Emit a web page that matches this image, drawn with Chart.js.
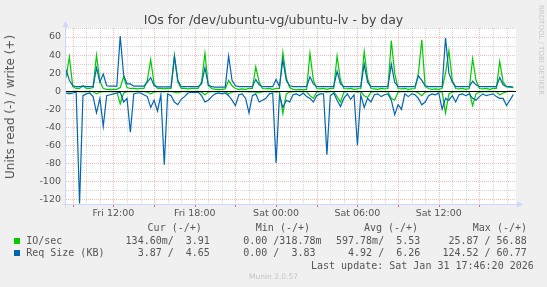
<!DOCTYPE html>
<html>
<head>
<meta charset="utf-8">
<title>IOs for /dev/ubuntu-vg/ubuntu-lv - by day</title>
<script src="https://cdn.jsdelivr.net/npm/chart.js@4.4.0/dist/chart.umd.min.js"></script>
<style>
  html, body { margin: 0; padding: 0; background: #f0f0f0; }
  #wrap { position: relative; width: 547px; height: 287px; overflow: hidden; }
  #chart { position: absolute; left: 0; top: 0; }
  .txt { position: absolute; white-space: pre; color: #555; }
  .mono { font-family: "DejaVu Sans Mono", monospace; font-size: 10px; line-height: 12px; }
  .title { font-family: "DejaVu Sans", sans-serif; font-size: 12.5px; line-height: 15px; color: #444;
           left: 0; width: 547px; text-align: center; top: 12px; }
  .ytitle { font-family: "DejaVu Sans", sans-serif; font-size: 12px; line-height: 14px; left: 10px; top: 107px;
            transform: translate(-50%, -50%) rotate(-90deg); }
  .mark { position: absolute; width: 6px; height: 6px; }
  .munin { font-family: "DejaVu Sans", sans-serif; font-size: 7.5px; line-height: 9px; color: #c4c4c4;
           left: 0; width: 547px; text-align: center; top: 272px; }
  .rrd { font-family: "DejaVu Sans", sans-serif; font-size: 7px; color: #c8c8c8; left: 537px; top: 5px;
         writing-mode: vertical-rl; }
</style>
</head>
<body>
<div id="wrap">
  <canvas id="chart" width="547" height="287"></canvas>
  <div class="txt title">IOs for /dev/ubuntu-vg/ubuntu-lv - by day</div>
  <div class="txt ytitle">Units read (-) / write (+)</div>
  <div class="txt rrd">RRDTOOL / TOBI OETIKER</div>

  <div class="txt mono" style="left:147.6px; top:222px">Cur (-/+)</div>
  <div class="txt mono" style="left:255.8px; top:222px">Min (-/+)</div>
  <div class="txt mono" style="left:363.9px; top:222px">Avg (-/+)</div>
  <div class="txt mono" style="left:472.8px; top:222px">Max (-/+)</div>

  <div class="mark" style="left:14px; top:237.5px; background:#00cc00"></div>
  <div class="txt mono" style="left:26.2px; top:234.5px">IO/sec</div>
  <div class="txt mono" style="left:125.6px; top:234.5px">134.60m/  3.91 </div>
  <div class="txt mono" style="left:231.2px; top:234.5px">  0.00 /318.78m</div>
  <div class="txt mono" style="left:336px; top:234.5px">597.78m/  5.53 </div>
  <div class="txt mono" style="left:442.4px; top:234.5px"> 25.87 / 56.88 </div>

  <div class="mark" style="left:14px; top:250px; background:#0066b3"></div>
  <div class="txt mono" style="left:26.2px; top:247px">Req Size (KB)</div>
  <div class="txt mono" style="left:125.6px; top:247px">  3.87 /  4.65 </div>
  <div class="txt mono" style="left:231.2px; top:247px">  0.00 /  3.83 </div>
  <div class="txt mono" style="left:336px; top:247px">  4.92 /  6.26 </div>
  <div class="txt mono" style="left:442.4px; top:247px">124.52 / 60.77 </div>

  <div class="txt mono" style="left:311px; top:259.5px">Last update: Sat Jan 31 17:46:20 2026</div>
  <div class="txt munin">Munin 2.0.57</div>
</div>
<script>
// samples every 15 minutes, hours counted from Fri 00:00
const startHour = 8.5;
const stepHours = 0.25;
const endHour = 41.7;

// IO/sec, write (drawn above zero)
const ioWrite = [
  15, 38, 5, 3, 3, 6, 3, 3, 4, 40, 11, 3, 2, 2, 2, 2, 4, 16, 4, 3,
  3, 2.5, 3, 3, 12, 35, 8, 3, 3, 2.5, 3, 3, 40, 10, 3, 3, 2.5, 3, 3, 3,
  10, 42, 6, 3, 2, 2, 2, 2.5, 12, 6, 3, 2, 2.5, 2, 3, 3, 27, 10, 3, 2.5,
  3, 2, 3, 3, 43, 15, 4, 2, 1.5, 2, 1.5, 2, 42, 12, 3, 2.5, 3, 2, 3, 3,
  39, 12, 3, 2.5, 3, 2, 2.5, 3, 44, 14, 3, 2.5, 2, 3, 2.5, 3, 56, 20, 3, 2.5,
  3, 2, 2.5, 3, 20, 57, 5, 3, 2, 2.5, 2, 3, 20, 45, 12, 3, 2.5, 3, 2, 3,
  36, 12, 3, 2.5, 3, 2, 3, 3, 33, 10, 5, 4.5, 3.91
];
// IO/sec, read (drawn below zero)
const ioRead = [
  0.5, 1, 0.5, 0.3, 0.5, 0.8, 0.4, 0.3, 0.5, 3, 1, 0.5, 0.4, 0.3, 0.5, 0.4, 14, 2, 0.5, 0.6,
  0.4, 0.3, 0.5, 0.4, 1, 3, 1, 0.5, 0.4, 0.8, 0.3, 0.4, 1, 2, 0.5, 0.4, 0.3, 0.5, 0.4, 0.3,
  1, 4, 1, 0.5, 0.4, 0.3, 0.5, 0.4, 3, 1, 0.6, 0.4, 0.3, 0.5, 0.8, 0.4, 1, 2, 0.5, 0.4,
  0.3, 0.5, 1, 0.5, 25, 3, 1, 0.5, 0.4, 0.3, 0.5, 0.4, 5, 8, 1, 0.5, 0.4, 1, 0.5, 0.4,
  6, 12, 1, 0.5, 0.4, 0.3, 1, 0.5, 5, 7, 1, 0.5, 0.4, 0.3, 0.5, 0.4, 8, 10, 1, 0.6,
  0.4, 0.3, 0.5, 0.4, 2, 5, 1, 0.5, 0.4, 0.3, 0.5, 1, 24, 3, 1, 0.5, 0.4, 0.3, 0.5, 0.4,
  16, 3, 1, 0.5, 0.4, 0.3, 0.5, 0.4, 4, 2, 0.5, 0.3, 0.13
];
// Req Size (KB), write
const reqWrite = [
  24, 12, 6, 5, 5, 5.5, 5, 5, 5, 26, 10, 19, 6, 5.5, 5.5, 5.5, 61, 18, 8, 8,
  5.5, 5.5, 5.5, 5.5, 10, 15, 6, 4.8, 4.8, 4.8, 4.8, 4.8, 38, 12, 5, 5, 5, 5, 5, 5,
  8, 26, 7, 5, 4.5, 4.5, 4.5, 4.5, 39, 12, 6, 5, 5, 5, 5, 5, 13, 7, 5, 5,
  5, 5, 13, 5, 35, 12, 6, 5, 5, 5, 5, 5, 16, 8, 5, 5, 5, 5, 5, 5,
  22, 8, 5, 5, 5, 5, 5, 5, 30, 10, 5, 5, 5, 5, 5, 5, 30, 10, 5, 5,
  5, 5, 5, 5, 17, 12, 6, 5, 5, 5, 5, 5, 59, 20, 10, 5, 5, 5, 5, 5,
  11, 7, 5, 5, 5, 5, 5, 5, 15, 7, 5, 5, 4.65
];
// Req Size (KB), read
const reqRead = [
  2, 3, 2, 1, 124.5, 5, 3, 2, 6, 24, 8, 39, 5, 4, 3, 2, 1, 12, 8, 45.5,
  3, 2, 2, 4, 6, 18, 10, 22, 4, 81.5, 3, 5, 12, 15, 9, 6, 2, 1, 1.5, 1,
  5, 12, 10, 6, 3, 2, 3, 2, 5, 10, 16, 4, 3, 8, 24, 5, 3, 12, 10, 8,
  3, 2, 79.5, 5, 18, 10, 12, 4, 3, 5, 2, 6, 8, 12, 5, 3, 3, 70.4, 5, 2,
  10, 17, 8, 3, 9, 4, 60, 4, 18, 8, 12, 4, 3, 6, 4, 3, 10, 26, 15, 20,
  3, 6, 3, 4, 8, 15, 12, 5, 3, 4, 2, 20, 8, 10, 5, 12, 4, 3, 5, 3,
  8, 10, 6, 3, 5, 4, 3, 6, 8, 8, 16, 10, 3.87
];

const xTickHours = [12, 18, 24, 30, 36];
const xTickLabels = ['Fri 12:00', 'Fri 18:00', 'Sat 00:00', 'Sat 06:00', 'Sat 12:00'];
const yTickValues = [60, 40, 20, 0, -20, -40, -60, -80, -100, -120];
const yMin = -125;
const yMax = 70;

const GREEN = '#00cc00';
const BLUE = '#0066b3';
const AXIS = '#cfd6f8';
const MINOR = 'rgba(150, 150, 150, 0.4)';
const MAJOR = 'rgba(240, 100, 100, 0.45)';

const toPoints = (vals, sign) => vals.map((v, i) => ({ x: startHour + i * stepHours, y: sign * v }));

// munin style grid, zero rule and arrowed axes
const muninFrame = {
  id: 'muninFrame',
  beforeDatasetsDraw(chart) {
    const { ctx, chartArea: a, scales: { x, y } } = chart;
    const left = Math.round(a.left), right = Math.round(a.right);
    const top = Math.round(a.top), bottom = Math.round(a.bottom);
    ctx.save();
    ctx.fillStyle = '#ffffff';
    ctx.fillRect(left, top, right - left, bottom - top);
    ctx.lineWidth = 1;
    ctx.setLineDash([1, 1]);
    for (let h = Math.ceil(x.min); h <= x.max; h++) {
      const px = Math.round(x.getPixelForValue(h)) + 0.5;
      ctx.strokeStyle = h % 3 === 0 ? MAJOR : MINOR;
      ctx.beginPath();
      ctx.moveTo(px, top);
      ctx.lineTo(px, bottom);
      ctx.stroke();
    }
    for (let v = -120; v <= yMax; v += 10) {
      const py = Math.round(y.getPixelForValue(v)) + 0.5;
      ctx.strokeStyle = v % 20 === 0 ? MAJOR : MINOR;
      ctx.beginPath();
      ctx.moveTo(left, py);
      ctx.lineTo(right, py);
      ctx.stroke();
    }
    ctx.restore();
  },
  afterDatasetsDraw(chart) {
    const { ctx, chartArea: a, scales: { x, y } } = chart;
    ctx.save();
    ctx.lineWidth = 1;
    // zero rule
    const zy = Math.round(y.getPixelForValue(0)) + 0.5;
    ctx.strokeStyle = '#000000';
    ctx.beginPath();
    ctx.moveTo(Math.round(a.left), zy);
    ctx.lineTo(Math.round(a.right), zy);
    ctx.stroke();
    // tick marks under the x axis
    ctx.strokeStyle = 'rgba(235, 80, 80, 0.85)';
    for (let h = Math.ceil(x.min); h <= x.max; h++) {
      if (h % 3 !== 0) continue;
      const px = Math.round(x.getPixelForValue(h)) + 0.5;
      ctx.beginPath();
      ctx.moveTo(px, a.bottom + 1);
      ctx.lineTo(px, a.bottom + 3);
      ctx.stroke();
    }
    // axes with arrows
    const ax = Math.round(a.left) - 0.5;
    const ay = Math.round(a.bottom) + 0.5;
    ctx.strokeStyle = AXIS;
    ctx.fillStyle = AXIS;
    ctx.beginPath();
    ctx.moveTo(ax, ay + 3);
    ctx.lineTo(ax, a.top - 2);
    ctx.moveTo(ax - 3, ay);
    ctx.lineTo(a.right + 3, ay);
    ctx.stroke();
    ctx.beginPath();
    ctx.moveTo(ax - 3, a.top - 1);
    ctx.lineTo(ax + 3, a.top - 1);
    ctx.lineTo(ax, a.top - 7);
    ctx.closePath();
    ctx.fill();
    ctx.beginPath();
    ctx.moveTo(a.right + 1, ay - 3);
    ctx.lineTo(a.right + 1, ay + 3);
    ctx.lineTo(a.right + 7, ay);
    ctx.closePath();
    ctx.fill();
    ctx.restore();
  }
};

Chart.defaults.font.family = '"DejaVu Sans", sans-serif';

new Chart(document.getElementById('chart'), {
  type: 'line',
  data: {
    datasets: [
      { label: 'Req Size (KB) read', data: toPoints(reqRead, -1), borderColor: BLUE, order: 0 },
      { label: 'Req Size (KB) write', data: toPoints(reqWrite, 1), borderColor: BLUE, order: 0 },
      { label: 'IO/sec read', data: toPoints(ioRead, -1), borderColor: GREEN, order: 1 },
      { label: 'IO/sec write', data: toPoints(ioWrite, 1), borderColor: GREEN, order: 1 }
    ]
  },
  options: {
    responsive: false,
    animation: false,
    devicePixelRatio: 1,
    layout: { padding: { left: 0, right: 31, top: 28, bottom: 0 } },
    elements: {
      line: { borderWidth: 1.2, tension: 0, fill: false },
      point: { radius: 0 }
    },
    plugins: { legend: { display: false }, tooltip: { enabled: false } },
    scales: {
      x: {
        type: 'linear',
        min: startHour,
        max: endHour,
        grid: { display: false, drawTicks: false },
        border: { display: false },
        afterBuildTicks: (scale) => { scale.ticks = xTickHours.map(v => ({ value: v })); },
        afterFit: (scale) => { scale.height = 83; },
        ticks: {
          autoSkip: false,
          maxRotation: 0,
          padding: 4,
          color: '#555',
          font: { size: 9.5 },
          callback: (v) => xTickLabels[xTickHours.indexOf(v)]
        }
      },
      y: {
        min: yMin,
        max: yMax,
        grid: { display: false, drawTicks: false },
        border: { display: false },
        afterBuildTicks: (scale) => { scale.ticks = yTickValues.map(v => ({ value: v })); },
        afterFit: (scale) => { scale.width = 66; },
        ticks: {
          padding: 5,
          color: '#555',
          font: { size: 9.5 },
          callback: (v) => String(v)
        }
      }
    }
  },
  plugins: [muninFrame]
});
</script>
</body>
</html>
